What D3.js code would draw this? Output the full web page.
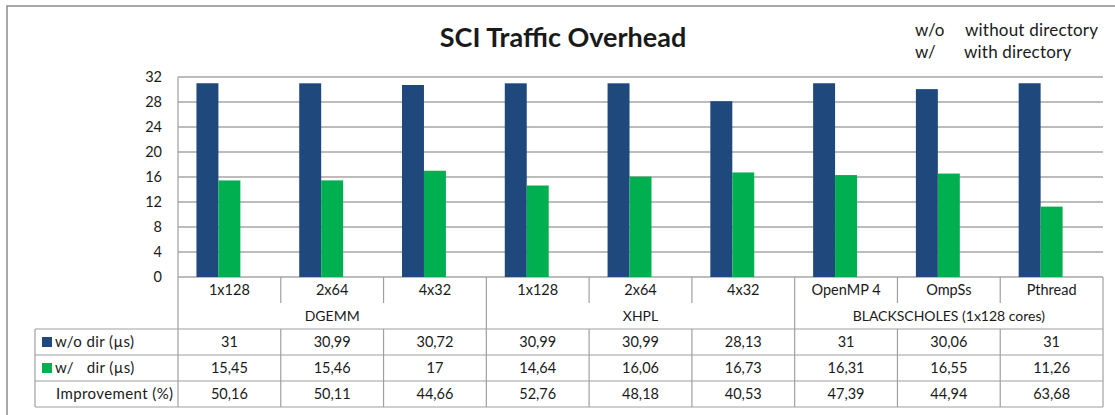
<!DOCTYPE html>
<html>
<head>
<meta charset="utf-8">
<script src="https://cdn.jsdelivr.net/npm/d3@7"></script>
<style>
  body { margin: 0; background: #fff; }
  text { font-family: Lato, "Open Sans", sans-serif; fill: #1a1a1a; }
</style>
</head>
<body>
<script>
var categories = ['1x128', '2x64', '4x32', '1x128', '2x64', '4x32', 'OpenMP 4', 'OmpSs', 'Pthread'];
var groups = ['DGEMM', 'XHPL', 'BLACKSCHOLES (1x128 cores)'];
var groupSizes = [3, 3, 3];
var withoutDir = [31, 30.99, 30.72, 30.99, 30.99, 28.13, 31, 30.06, 31];
var withDir = [15.45, 15.46, 17, 14.64, 16.06, 16.73, 16.31, 16.55, 11.26];
var improvement = [50.16, 50.11, 44.66, 52.76, 48.18, 40.53, 47.39, 44.94, 63.68];
var yTicks = [0, 4, 8, 12, 16, 20, 24, 28, 32];
var rowLabels = ['w/o dir (\u00b5s)', 'w/   dir (\u00b5s)', 'Improvement (%)'];

var colors = ['#1f497d', '#00b050'];
var gridColor = '#a6a6a6';

var W = 1115, H = 415;
var plotLeft = 178, plotRight = 1103, plotTop = 77, zero = 277;
var tableLeft = 35;
var catRowH = 26, rowH = 26;

var svg = d3.select('body').append('svg')
  .attr('width', W).attr('height', H);

// outer chart frame (runs off the right and bottom edges)
svg.append('rect')
  .attr('x', 7).attr('y', 6)
  .attr('width', W + 20).attr('height', H + 20)
  .attr('fill', 'none')
  .attr('stroke', '#8c8c8c')
  .attr('stroke-width', 1.5);

var x = d3.scaleBand()
  .domain(d3.range(categories.length))
  .range([plotLeft, plotRight]);

// third slot belongs to the hidden improvement series
var x1 = d3.scaleBand()
  .domain(['wo', 'w', 'imp'])
  .range([0, x.bandwidth()])
  .paddingOuter(0.84);

var y = d3.scaleLinear().domain([0, 32]).range([zero, plotTop]);

// gridlines
svg.append('g')
  .selectAll('line')
  .data(yTicks)
  .enter()
  .append('line')
  .attr('x1', plotLeft).attr('x2', plotRight)
  .attr('y1', d => y(d)).attr('y2', d => y(d))
  .attr('stroke', gridColor)
  .attr('stroke-width', 1.3);

// y axis
var yAxis = svg.append('g')
  .attr('transform', 'translate(' + plotLeft + ',0)')
  .call(d3.axisLeft(y).tickValues(yTicks).tickSize(0).tickPadding(16));
yAxis.select('.domain').remove();
yAxis.selectAll('text')
  .style('font-size', '14.5px')
  .style('font-family', 'Lato, sans-serif')
  .attr('fill', '#1a1a1a');

// bars
var bars = svg.append('g');
bars.selectAll('.wo')
  .data(withoutDir)
  .enter()
  .append('rect')
  .attr('class', 'wo')
  .attr('x', (d, i) => x(i) + x1('wo'))
  .attr('y', d => y(d))
  .attr('width', x1.bandwidth())
  .attr('height', d => zero - y(d))
  .attr('fill', colors[0]);

bars.selectAll('.w')
  .data(withDir)
  .enter()
  .append('rect')
  .attr('class', 'w')
  .attr('x', (d, i) => x(i) + x1('w'))
  .attr('y', d => y(d))
  .attr('width', x1.bandwidth())
  .attr('height', d => zero - y(d))
  .attr('fill', colors[1]);

// plot left edge
svg.append('line')
  .attr('x1', plotLeft).attr('x2', plotLeft)
  .attr('y1', plotTop).attr('y2', zero + catRowH * 2 + rowH * 3)
  .attr('stroke', gridColor).attr('stroke-width', 1.3);

// category labels
var catY = zero + catRowH / 2;
svg.append('g')
  .selectAll('text')
  .data(categories)
  .enter()
  .append('text')
  .attr('x', (d, i) => x(i) + x.bandwidth() / 2)
  .attr('y', catY)
  .attr('dy', '0.35em')
  .attr('text-anchor', 'middle')
  .style('font-size', '14.5px')
  .text(d => d);

// group labels and boundaries
var starts = [];
var acc = 0;
groupSizes.forEach(function(n) { starts.push(acc); acc += n; });
var groupEdges = starts.concat([categories.length]);

svg.append('g')
  .selectAll('text')
  .data(groups)
  .enter()
  .append('text')
  .attr('x', (d, i) => (x(starts[i]) + x(starts[i] + groupSizes[i] - 1) + x.bandwidth()) / 2)
  .attr('y', zero + catRowH * 1.5)
  .attr('dy', '0.35em')
  .attr('text-anchor', 'middle')
  .style('font-size', '14px')
  .text(d => d);

var tableLine = '#a0a0a0';
var dataTop = zero + catRowH * 2;
var tableBottom = dataTop + rowH * 3;

// vertical separators between categories
d3.range(1, categories.length).forEach(function(i) {
  var isGroup = groupEdges.indexOf(i) >= 0;
  svg.append('line')
    .attr('x1', x(i)).attr('x2', x(i))
    .attr('y1', zero)
    .attr('y2', isGroup ? tableBottom : zero + catRowH)
    .attr('stroke', tableLine).attr('stroke-width', 1.2);
  if (!isGroup) {
    svg.append('line')
      .attr('x1', x(i)).attr('x2', x(i))
      .attr('y1', dataTop).attr('y2', tableBottom)
      .attr('stroke', tableLine).attr('stroke-width', 1.2);
  }
});
svg.append('line')
  .attr('x1', plotRight).attr('x2', plotRight)
  .attr('y1', zero).attr('y2', tableBottom)
  .attr('stroke', tableLine).attr('stroke-width', 1.2);
svg.append('line')
  .attr('x1', tableLeft).attr('x2', tableLeft)
  .attr('y1', dataTop).attr('y2', tableBottom)
  .attr('stroke', tableLine).attr('stroke-width', 1.2);

// horizontal table lines
[dataTop, dataTop + rowH, dataTop + rowH * 2, tableBottom].forEach(function(yy) {
  svg.append('line')
    .attr('x1', tableLeft).attr('x2', plotRight)
    .attr('y1', yy).attr('y2', yy)
    .attr('stroke', tableLine).attr('stroke-width', 1.2);
});

// row labels with legend keys
var rows = [withoutDir, withDir, improvement];
rowLabels.forEach(function(label, r) {
  var cy = dataTop + rowH * r + rowH / 2;
  if (r < 2) {
    svg.append('rect')
      .attr('x', 42).attr('y', cy - 5)
      .attr('width', 10).attr('height', 10)
      .attr('fill', colors[r]);
  }
  svg.append('text')
    .attr('x', r < 2 ? 55 : 56)
    .attr('y', cy)
    .attr('dy', '0.35em')
    .attr('xml:space', 'preserve')
    .style('white-space', 'pre')
    .style('font-size', '15px')
    .style('letter-spacing', '0.4px')
    .text(label);

  svg.append('g')
    .selectAll('text')
    .data(rows[r])
    .enter()
    .append('text')
    .attr('x', (d, i) => x(i) + x.bandwidth() / 2)
    .attr('y', cy)
    .attr('dy', '0.35em')
    .attr('text-anchor', 'middle')
    .style('font-size', '14.5px')
    .text(d => String(d).replace('.', ','));
});

// title
svg.append('text')
  .attr('x', 563).attr('y', 47)
  .attr('text-anchor', 'middle')
  .style('font-size', '27px')
  .style('font-weight', 'bold')
  .attr('fill', '#000')
  .text('SCI Traffic Overhead');

// abbreviation note
var notes = [['w/o', 'without directory'], ['w/', 'with directory']];
notes.forEach(function(n, i) {
  svg.append('text')
    .attr('x', 915).attr('y', 36 + i * 22)
    .style('font-size', '17px')
    .text(n[0]);
  svg.append('text')
    .attr('x', 965 - i).attr('y', 36 + i * 22)
    .style('font-size', '17px')
    .style('letter-spacing', '0.2px')
    .text(n[1]);
});
</script>
</body>
</html>
